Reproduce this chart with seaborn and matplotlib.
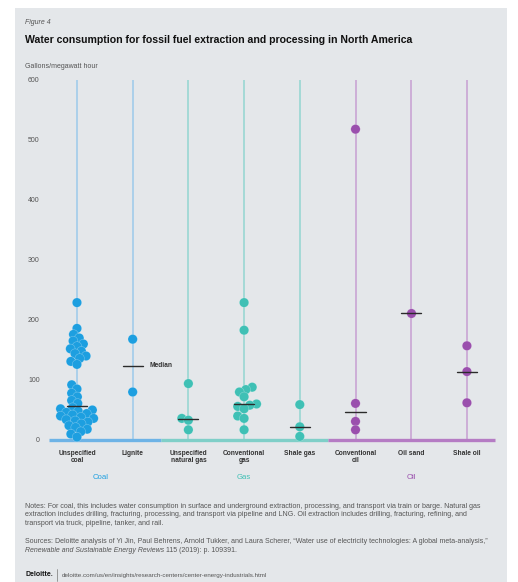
import numpy as np
import pandas as pd
import matplotlib.pyplot as plt
import seaborn as sns
from matplotlib.patches import Rectangle
from matplotlib.lines import Line2D

# --- data (gallons per megawatt hour) ---
categories = ["Unspecified\ncoal", "Lignite", "Unspecified\nnatural gas", "Conventional\ngas",
              "Shale gas", "Conventional\noil", "Oil sand", "Shale oil"]
groups = ["Coal", "Coal", "Gas", "Gas", "Gas", "Oil", "Oil", "Oil"]

unspecified_coal = [229, 186, 176, 170, 165, 160, 156, 152, 148, 144, 140, 136, 131, 126,
                    92, 85, 78, 72, 66, 61,
                    54, 52, 50, 48, 46, 44, 42, 40, 38, 36, 34, 32, 30, 27, 24, 21, 18, 14, 10, 5]
lignite = [168, 80]
unspecified_gas = [94, 36, 33, 17]
conventional_gas = [229, 183, 88, 84, 80, 72, 60, 58, 56, 52, 40, 36, 17]
shale_gas = [59, 22, 6]
conventional_oil = [518, 61, 31, 17]
oil_sand = [212]
shale_oil = [157, 114, 62]

series = [unspecified_coal, lignite, unspecified_gas, conventional_gas,
          shale_gas, conventional_oil, oil_sand, shale_oil]
y_ticks = [0, 100, 200, 300, 400, 500, 600]

dot_colors = {"Coal": "#1d9fe0", "Gas": "#3fc0b5", "Oil": "#9a4fad"}
line_colors = {"Coal": "#9ccaea", "Gas": "#93d6d0", "Oil": "#c79fd2"}
base_colors = {"Coal": "#6db3e6", "Gas": "#7fcfc8", "Oil": "#b57cc4"}
bg = "#e4e7ea"

rows = []
for cat, grp, vals in zip(categories, groups, series):
    for v in vals:
        rows.append({"category": cat, "group": grp, "value": v})
df = pd.DataFrame(rows)

sns.set_style("white")
plt.rcParams["font.family"] = ["Liberation Sans", "DejaVu Sans"]

W, H = 518, 582
fig = plt.figure(figsize=(W / 100, H / 100), dpi=100)
fig.patch.set_facecolor("white")
fig.patches.append(Rectangle((15 / W, 0), 492 / W, 574 / H, transform=fig.transFigure,
                             facecolor=bg, edgecolor="none", zorder=-10))


def fx(px):
    return px / W


def fy(py):
    return 1 - py / H


ax = fig.add_axes([fx(48), fy(440), (497 - 48) / W, (440 - 80) / H])
ax.set_facecolor("none")

# vertical guide lines per category
for i, grp in enumerate(groups):
    ax.plot([i, i], [0, 600], color=line_colors[grp], lw=1.1, zorder=1, solid_capstyle="butt")

# coloured baseline per group
spans = {"Coal": (-0.5, 1.5), "Gas": (1.5, 4.5), "Oil": (4.5, 7.5)}
for grp, (a, b) in spans.items():
    ax.plot([a, b], [0, 0], color=base_colors[grp], lw=2.4, zorder=2, solid_capstyle="butt",
            clip_on=False)

# swarm laid out with small markers, then markers enlarged so they overlap like the original
sns.swarmplot(data=df, x="category", y="value", hue="group", order=categories,
              palette=dot_colors, size=4.7, linewidth=0, legend=False, ax=ax, zorder=3)

# median markers
for i, vals in enumerate(series):
    m = np.median(vals)
    ax.plot([i - 0.18, i + 0.18], [m, m], color="#2b2b2b", lw=1.0, zorder=5)
ax.text(1.3, np.median(lignite), "Median", fontsize=4.8, fontweight="bold", color="#333",
        va="center", ha="left")

ax.set_xlim(-0.52, 7.54)
ax.set_ylim(0, 600)
ax.set_yticks(y_ticks)
ax.set_yticklabels([str(t) for t in y_ticks], fontsize=5, color="#555")
ax.set_xticks(range(len(categories)))
ax.set_xticklabels(categories, fontsize=4.8, fontweight="bold", color="#333", linespacing=1.0)
ax.tick_params(axis="y", length=0, pad=6)
ax.tick_params(axis="x", length=0, pad=7)
ax.set_xlabel("")
ax.set_ylabel("")
for s in ax.spines.values():
    s.set_visible(False)

fig.canvas.draw()
for c in ax.collections:
    c.__dict__.pop("draw", None)
    c.set_sizes([6.8 ** 2])
    c.set_edgecolor((1, 1, 1, 0.35))
    c.set_linewidth(0.4)
    c.set_clip_on(False)

# group labels
for grp, xpos in [("Coal", 0.42), ("Gas", 3), ("Oil", 6)]:
    ax.text(xpos, -63, grp, fontsize=5.6, color=dot_colors[grp], ha="center", va="center")

# header
fig.text(fx(25), fy(22), "Figure 4", fontsize=5, style="italic", color="#555", va="center")
fig.text(fx(25), fy(40), "Water consumption for fossil fuel extraction and processing in North America",
         fontsize=7.6, fontweight="bold", color="#111", va="center")
fig.text(fx(25), fy(67), "Gallons/megawatt hour", fontsize=5, color="#555", va="center")

# notes
notes = ("Notes: For coal, this includes water consumption in surface and underground extraction, processing, "
         "and transport via train or barge. Natural gas\n"
         "extraction includes drilling, fracturing, processing, and transport via pipeline and LNG. "
         "Oil extraction includes drilling, fracturing, refining, and\n"
         "transport via truck, pipeline, tanker, and rail.")
fig.text(fx(25), fy(503), notes, fontsize=5.1, color="#555", va="top", linespacing=1.3)
sources = ("Sources: Deloitte analysis of Yi Jin, Paul Behrens, Arnold Tukker, and Laura Scherer, "
           "\u201cWater use of electricity technologies: A global meta-analysis,\u201d")
fig.text(fx(25), fy(538), sources, fontsize=5.0, color="#555", va="top")
journal = fig.text(fx(25), fy(547), "Renewable and Sustainable Energy Reviews", fontsize=5.0,
                   color="#555", va="top", style="italic")
bb = journal.get_window_extent(renderer=fig.canvas.get_renderer())
fig.text(bb.x1 / W + fx(2), fy(547), "115 (2019): p. 109391.", fontsize=5.0, color="#555", va="top")

# footer
fig.text(fx(25), fy(575), "Deloitte.", fontsize=5, fontweight="bold", color="#111", va="center")
fig.lines.append(Line2D([fx(57), fx(57)], [fy(569), fy(581)], transform=fig.transFigure,
                        color="#777", lw=0.5))
fig.text(fx(62), fy(575), "deloitte.com/us/en/insights/research-centers/center-energy-industrials.html",
         fontsize=4.5, color="#555", va="center")

fig.savefig("out.png", dpi=100)
